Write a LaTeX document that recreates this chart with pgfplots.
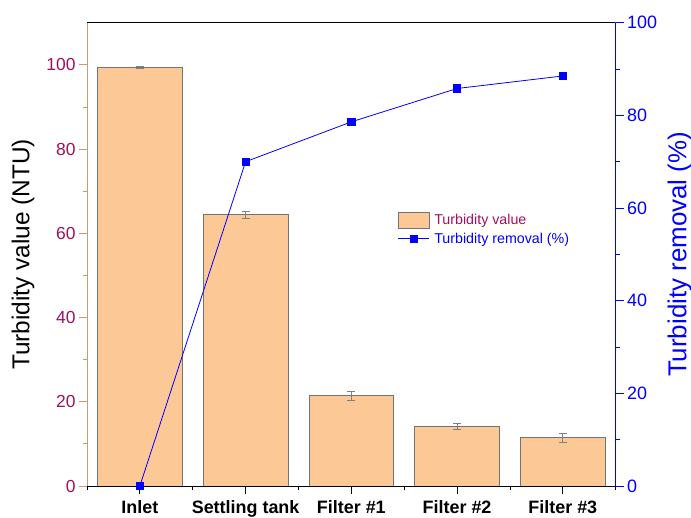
\documentclass[border=0pt]{standalone}
\usepackage{pgfplots}
\pgfplotsset{compat=1.18}
\usepackage{fontspec}
\setmainfont{Liberation Sans}
\definecolor{barfill}{RGB}{251,200,150}
\definecolor{baredge}{RGB}{115,115,115}
\definecolor{tanline}{RGB}{196,156,118}
\definecolor{mag}{RGB}{160,16,96}
\begin{document}
\begin{tikzpicture}
\useasboundingbox (-87bp,-32bp) rectangle (604bp,486bp);
\begin{axis}[
  scale only axis, width=528.7bp, height=463.3bp,
  anchor=south west, at={(0,0)},
  xmin=-0.5, xmax=4.5, ymin=0, ymax=110,
  axis y line*=left, axis x line*=bottom,
  y axis line style={draw=tanline, line width=0.8bp},
  x axis line style={draw=black, line width=0.8bp},
  every y tick/.append style={draw=tanline, line width=0.8bp},
  every x tick/.append style={draw=black, line width=0.8bp},
  tick align=outside,
  major tick length=8bp, minor tick length=4bp,
  xtick={0,1,2,3,4},
  xticklabels={Inlet, Settling tank, Filter \#1, Filter \#2, Filter \#3},
  minor xtick={-0.5,0.5,1.5,2.5,3.5,4.5},
  ytick={0,20,40,60,80,100},
  minor ytick={10,30,50,70,90},
  /pgf/number format/assume math mode=true,
  y tick label style={text=mag, font=\fontsize{17.5}{20}\selectfont},
  x tick label style={font=\fontsize{18}{20}\selectfont\bfseries, yshift=-3bp},
  every axis y label/.style={at={(axis description cs:-0.121,0.5)}, anchor=center, rotate=90, inner sep=0pt, font=\fontsize{24.5}{26}\selectfont},
  ylabel={Turbidity value (NTU)},
  legend style={draw=none, fill=none, at={(0.586,0.594)}, anchor=north west,
    font=\fontsize{14.3}{16}\selectfont, row sep=2.5bp, inner sep=1bp,
    nodes={inner xsep=4.5bp}},
  legend cell align=left,
]
\addplot[ybar, bar width=0.8, fill=barfill, draw=baredge, line width=0.8bp,
  legend image code/.code={\draw[fill=barfill, draw=baredge, line width=0.8bp] (0bp,-7.5bp) rectangle (31bp,8bp);},
  error bars/.cd, y dir=both, y explicit,
  error bar style={draw=gray, line width=0.7bp},
  error mark options={draw=gray, line width=0.7bp, rotate=90, mark size=4bp}]
  coordinates {
  (0,99.4) +- (0,0.2)
  (1,64.4) +- (0,0.87)
  (2,21.4) +- (0,1.05)
  (3,14.2) +- (0,0.7)
  (4,11.5) +- (0,1.05)
  };
\addlegendentry[text=mag]{Turbidity value}
\addlegendimage{blue, line width=0.8bp,
  legend image code/.code={\draw[blue, line width=0.8bp] (0bp,0bp) -- (31bp,0bp); \fill[blue] (11.8bp,-3.7bp) rectangle (19.2bp,3.7bp);}}
\addlegendentry[text=blue]{Turbidity removal (\%)}
\draw[black, line width=0.8bp] (rel axis cs:0,1) -- (rel axis cs:1,1);
\end{axis}
\begin{axis}[
  scale only axis, width=528.7bp, height=463.3bp,
  anchor=south west, at={(0,0)},
  xmin=-0.5, xmax=4.5, ymin=0, ymax=100,
  axis y line*=right, axis x line=none,
  y axis line style={draw=blue, line width=0.8bp},
  every y tick/.append style={draw=blue, line width=0.8bp},
  tick align=outside,
  major tick length=8bp, minor tick length=4bp,
  ytick={0,20,40,60,80,100},
  minor ytick={10,30,50,70,90},
  /pgf/number format/assume math mode=true,
  y tick label style={text=blue, font=\fontsize{18}{20}\selectfont},
  every axis y label/.style={at={(axis description cs:1.121,0.5)}, anchor=center, rotate=90, inner sep=0pt, text=blue, font=\fontsize{26}{28}\selectfont},
  ylabel={Turbidity removal (\%)},
]
\addplot[blue, line width=0.8bp, mark=square*, mark size=3.7bp]
  coordinates {(0,0) (1,70.0) (2,78.6) (3,85.8) (4,88.5)};
\end{axis}
\end{tikzpicture}
\end{document}
